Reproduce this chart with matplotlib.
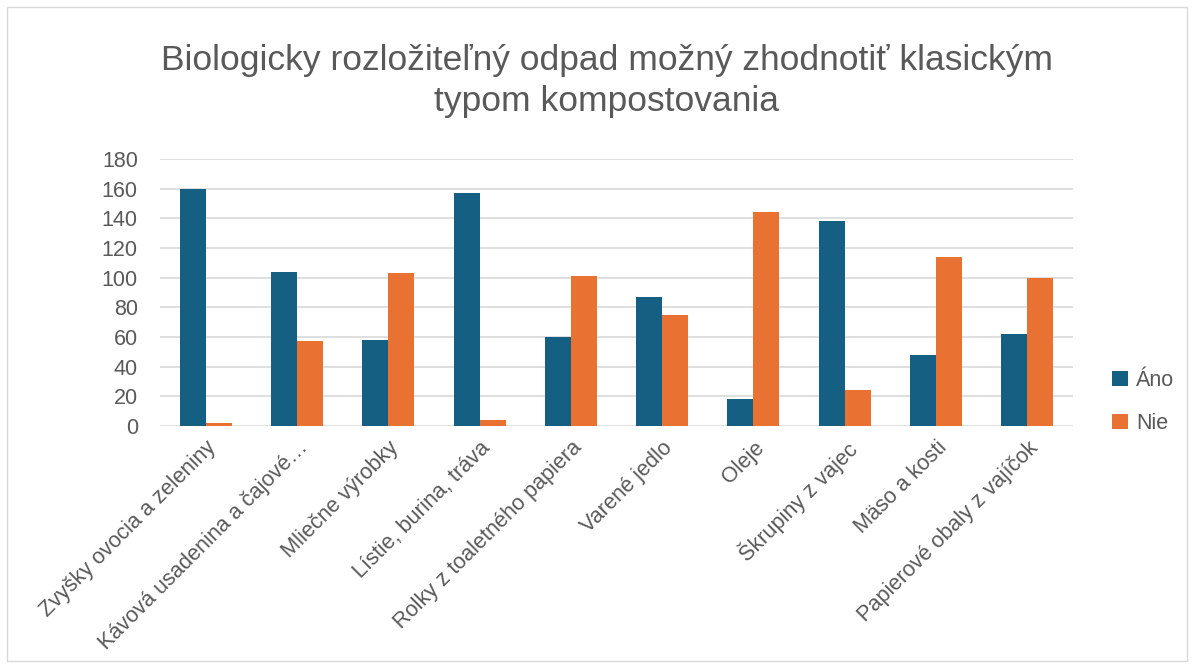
import matplotlib.pyplot as plt
import numpy as np
from matplotlib.patches import Rectangle

kategorie = [
    "Zvyšky ovocia a zeleniny",
    "Kávová usadenina a čajové…",
    "Mliečne výrobky",
    "Lístie, burina, tráva",
    "Rolky z toaletného papiera",
    "Varené jedlo",
    "Oleje",
    "Škrupiny z vajec",
    "Mäso a kosti",
    "Papierové obaly z vajíčok",
]
ano = [160, 104, 58, 157, 60, 87, 18, 138, 48, 62]
nie = [2, 57, 103, 4, 101, 75, 144, 24, 114, 100]

modra = "#156082"
oranzova = "#E97132"
seda = "#595959"

plt.rcParams["font.family"] = ["Liberation Sans", "DejaVu Sans"]

fig = plt.figure(figsize=(11.94, 6.68), dpi=100)
ax = fig.add_axes([160 / 1194, 1 - 426 / 668, 913 / 1194, 267 / 668])

x = np.arange(len(kategorie))
w = 0.285
ax.bar(x - w / 2, ano, width=w, color=modra, label="Áno", zorder=2)
ax.bar(x + w / 2, nie, width=w, color=oranzova, label="Nie", zorder=2)

ax.set_xlim(-0.5, len(kategorie) - 0.5)
ax.set_ylim(0, 180)
ax.set_yticks(range(0, 181, 20))
ax.grid(axis="y", color="#d9d9d9", linewidth=1.2, zorder=0)
for s in ax.spines.values():
    s.set_visible(False)
ax.tick_params(axis="both", length=0, colors=seda, labelsize=15.5)
ax.tick_params(axis="y", pad=16)
ax.set_xticks(x)
ax.set_xticklabels(kategorie, rotation=45, ha="right", rotation_mode="anchor")
ax.tick_params(axis="x", pad=8, labelsize=15.6)

fig.text(0.508, 1 - 81 / 668, "Biologicky rozložiteľný odpad možný zhodnotiť klasickým\ntypom kompostovania",
         ha="center", va="center", fontsize=25.5, color=seda, linespacing=1.3)

ax.legend(loc="center left", bbox_to_anchor=(1.022, 0.09), frameon=False,
          fontsize=15.5, labelcolor=seda, handlelength=0.7, handleheight=0.7,
          labelspacing=1.05, handletextpad=0.4)

fig.patches.append(Rectangle((7 / 1194, 7 / 668), 1180 / 1194, 654 / 668,
                             transform=fig.transFigure, fill=False,
                             edgecolor="#d9d9d9", linewidth=1))

fig.savefig("out.png", dpi=100)
plt.close(fig)
